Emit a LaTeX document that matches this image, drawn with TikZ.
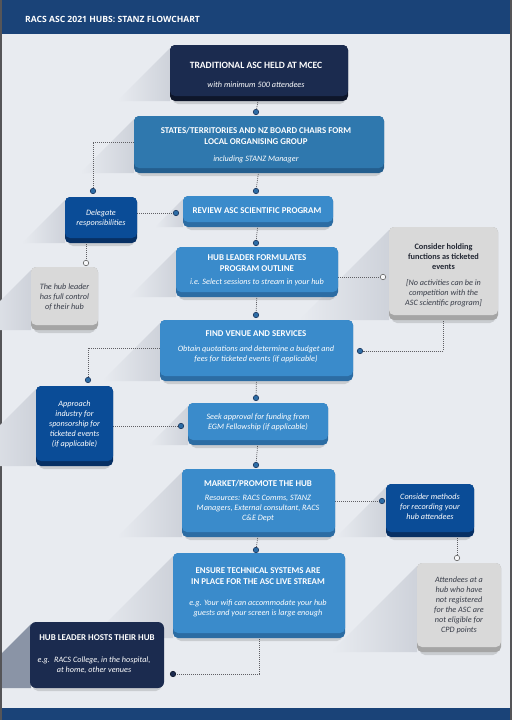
\documentclass[tikz,border=0pt]{standalone}
\usepackage{fontspec}
\setmainfont{Carlito}
\newfontfamily\titlefont{Open Sans}
\usetikzlibrary{fit}
\definecolor{band}{RGB}{26,67,120}
\definecolor{bgc}{RGB}{232,235,240}
\definecolor{frame}{RGB}{85,85,88}
\definecolor{navy}{RGB}{27,43,79}
\definecolor{navylip}{RGB}{14,22,42}
\definecolor{midblue}{RGB}{47,120,174}
\definecolor{midlip}{RGB}{36,94,142}
\definecolor{lblue}{RGB}{58,139,203}
\definecolor{lbluelip}{RGB}{44,108,163}
\definecolor{dblue}{RGB}{10,76,151}
\definecolor{dbluelip}{RGB}{7,48,100}
\definecolor{gbox}{RGB}{217,217,217}
\definecolor{glip}{RGB}{165,165,165}
\definecolor{gtext}{RGB}{55,60,72}
\definecolor{gtitle}{RGB}{35,40,52}
\definecolor{connc}{RGB}{95,95,100}
\definecolor{dotc}{RGB}{45,108,165}
\definecolor{dotr}{RGB}{28,56,95}
\definecolor{shadowc}{RGB}{206,210,218}
\definecolor{hardshadow}{RGB}{138,148,166}
\pgfdeclarelayer{bgl}
\pgfdeclarelayer{midl}
\pgfsetlayers{bgl,midl,main}
\newcommand{\mkbox}[7]{%
  \begin{pgfonlayer}{bgl}
    \shade[left color=bgc, right color=shadowc] (#2,#3+3) -- (#2-#5+#3+3,#5) -- (#2,#5) -- cycle;
  \end{pgfonlayer}
  \fill[black, opacity=0.13, rounded corners=5pt] (#2+3,#5-4) rectangle (#4-3,#5+3);
  \fill[#7, rounded corners=5pt] (#2,#3) rectangle (#4,#5);
  \node[fit={(#2,#3)(#4,#5-5)}, inner sep=0pt, fill=#6, rounded corners=5pt] (#1) {};
}
\tikzset{
  bt/.style={font=\bfseries\fontsize{8.9}{11}\selectfont, text=white, align=center, inner sep=0pt},
  it/.style={font=\itshape\fontsize{8.2}{10}\selectfont, text=white, align=center, inner sep=0pt},
  gbt/.style={bt, font=\bfseries\fontsize{8.3}{10}\selectfont, text=gtitle},
  git/.style={it, text=gtext},
  conn/.style={draw=connc, line width=0.7pt, dash pattern=on 1pt off 1pt},
  dotf/.style={circle, inner sep=0pt, minimum size=5.5pt, fill=dotc, draw=dotr, line width=0.6pt},
  doto/.style={circle, inner sep=0pt, minimum size=5.5pt, fill=bgc!40!white, draw=gray!80!black, line width=0.6pt}
}
\begin{document}
\begin{tikzpicture}[x=1pt, y=-1pt]
\useasboundingbox (0,0) rectangle (512,720);
\begin{pgfonlayer}{bgl}
  \fill[frame] (0,0) rectangle (512,720);
  \fill[bgc] (2,0) rectangle (510,720);
\end{pgfonlayer}

% boxes
\mkbox{n1}{170}{45}{348}{101}{navy}{navylip}
\mkbox{n2}{134}{116}{384}{173}{midblue}{midlip}
\mkbox{del}{65}{197}{137}{243}{dblue}{dbluelip}
\mkbox{rev}{183}{196}{333}{227}{lblue}{lbluelip}
\mkbox{hl}{31}{267}{98}{330}{gbox}{glip}
\mkbox{hub}{176}{247}{338}{297}{lblue}{lbluelip}
\mkbox{cons}{389}{227}{498}{320}{gbox}{glip}
\mkbox{venue}{160}{320}{353}{381}{lblue}{lbluelip}
\mkbox{appr}{36}{386}{113}{466}{dblue}{dbluelip}
\mkbox{seek}{188}{403}{328}{445}{lblue}{lbluelip}
\mkbox{market}{182}{469}{335}{537}{lblue}{lbluelip}
\mkbox{meth}{386}{484}{474}{537}{dblue}{dbluelip}
\mkbox{att}{417}{563}{501}{652}{gbox}{glip}
\mkbox{ens}{173}{553}{345}{638}{lblue}{lbluelip}
\begin{pgfonlayer}{bgl}
  \fill[hardshadow] (31,624) -- (2,653) -- (2,688) -- (31,688) -- cycle;
\end{pgfonlayer}
\fill[black, opacity=0.13, rounded corners=5pt] (33,684) rectangle (161,691);
\node[fit={(30,622)(164,688)}, inner sep=0pt, fill=navy, rounded corners=6pt] (hh) {};

% bands
\fill[band] (2,0) rectangle (510,34);
\fill[band] (2,708) rectangle (510,720);
\node[inner sep=0pt, text=white, font=\titlefont\bfseries\fontsize{8.6}{10}\selectfont, anchor=west] (title) at (25,19) {RACS ASC 2021 HUBS: STANZ FLOWCHART};

% texts
\node[bt, font=\bfseries\fontsize{9.6}{11}\selectfont] (t1) at (256,65) {TRADITIONAL ASC HELD AT MCEC};
\node[it] (s1) at (256,85) {with minimum 500 attendees};
\node[bt] (t2) at (256,135.5) {STATES/TERRITORIES AND NZ BOARD CHAIRS FORM\\LOCAL ORGANISING GROUP};
\node[it] (s2) at (256,159) {including STANZ Manager};
\node[it] (s3) at (101,218.5) {Delegate\\responsibilities};
\node[bt] (t4) at (257,211) {REVIEW ASC SCIENTIFIC PROGRAM};
\node[git] (s5) at (64.5,297) {The hub leader\\has full control\\of their hub};
\node[bt] (t6) at (257,263) {HUB LEADER FORMULATES\\PROGRAM OUTLINE};
\node[it] (s6) at (257,282) {i.e. Select sessions to stream in your hub};
\node[gbt] (t7) at (443.5,257) {Consider holding\\functions as ticketed\\events};
\node[git] (s7) at (443.5,293) {[No activities can be in\\competition with the\\ASC scientific program]};
\node[bt] (t8) at (256,334) {FIND VENUE AND SERVICES};
\node[it] (s8) at (256,354) {Obtain quotations and determine a budget and\\fees for ticketed events (if applicable)};
\node[it] (s9) at (74.5,424) {Approach\\industry for\\sponsorship for\\ticketed events\\(if applicable)};
\node[it] (s10) at (258,422) {Seek approval for funding from\\EGM Fellowship (if applicable)};
\node[bt] (t11) at (258,484) {MARKET/PROMOTE THE HUB};
\node[it] (s11) at (258,508) {Resources: RACS Comms, STANZ\\Managers, External consultant, RACS\\C\&E Dept};
\node[it] (s12) at (430,507) {Consider methods\\for recording your\\hub attendees};
\node[git] (s13) at (459,605.5) {Attendees at a\\hub who have\\not registered\\for the ASC are\\not eligible for\\CPD points};
\node[bt] (t14) at (258,576) {ENSURE TECHNICAL SYSTEMS ARE\\IN PLACE FOR THE ASC LIVE STREAM};
\node[it] (s14) at (258,608) {e.g. Your wifi can accommodate your hub\\guests and your screen is large enough};
\node[bt] (t15) at (97,638) {HUB LEADER HOSTS THEIR HUB};
\node[it] (s15) at (94,665) {e.g.~ RACS College, in the hospital,\\at home, other venues};

% dots
\node[dotf] (d1) at (256,112) {};
\node[dotf] (d2) at (256,191) {};
\node[dotf] (d3) at (93,191) {};
\node[dotf] (d4) at (176,213) {};
\node[dotf] (d5) at (256,243) {};
\node[doto] (o1) at (86,263) {};
\node[doto] (o2) at (383,277) {};
\node[dotf] (d6) at (256,315) {};
\node[dotf] (d7) at (360,351) {};
\node[dotf] (d8) at (88,380) {};
\node[dotf] (d9) at (256,398) {};
\node[dotf] (d10) at (181,426) {};
\node[dotf] (d11) at (256,465) {};
\node[dotf] (d12) at (382,501) {};
\node[doto] (o3) at (457,558) {};
\node[dotf] (d13) at (256,550) {};
\node[dotf, fill=navy, draw=navylip] (d14) at (173,674) {};

% connectors
\begin{pgfonlayer}{midl}
  \draw[conn] (n1.south) -- (d1);
  \draw[conn] (n2.south) -- (d2);
  \draw[conn] (n2.west) -| (d3);
  \draw[conn] (d4 -| del.east) -- (d4);
  \draw[conn] (rev.south) -- (d5);
  \draw[conn] (o1 |- del.south) -- (o1);
  \draw[conn] (o2 -| hub.east) -- (o2);
  \draw[conn] (hub.south) -- (d6);
  \draw[conn] (cons.south) |- (d7);
  \draw[conn] (venue.west) -| (d8);
  \draw[conn] (venue.south) -- (d9);
  \draw[conn] (d10 -| appr.east) -- (d10);
  \draw[conn] (seek.south) -- (d11);
  \draw[conn] (d12 -| market.east) -- (d12);
  \draw[conn] (o3 |- meth.south) -- (o3);
  \draw[conn] (market.south) -- (d13);
  \draw[conn] (ens.south) |- (d14);
\end{pgfonlayer}
\end{tikzpicture}
\end{document}
